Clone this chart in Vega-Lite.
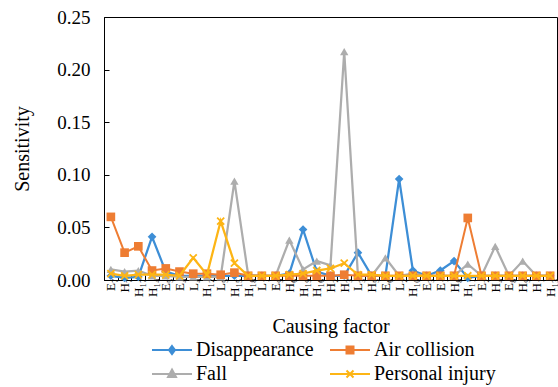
{
  "$schema": "https://vega.github.io/schema/vega-lite/v6.json",
  "width": 453,
  "height": 263,
  "autosize": {"type": "none"},
  "padding": {"left": 104, "top": 17, "right": 1, "bottom": 107},
  "background": "white",
  "config": {
    "font": "Liberation Serif",
    "view": {"stroke": "black", "strokeWidth": 1},
    "style": {"guide-label": {"font": "Liberation Serif", "fill": "black"}, "guide-title": {"font": "Liberation Serif", "fill": "black"}},
    "axis": {"domainColor": "black", "tickColor": "black", "labelColor": "black", "titleColor": "black", "titleFontWeight": "normal", "grid": false, "labelFont": "Liberation Serif", "titleFont": "Liberation Serif"},
    "legend": {"labelFont": "Liberation Serif", "labelFontSize": 20, "labelColor": "black"}
  },
  "data": {"values": [
    {"factor": "E₇", "Disappearance": 0.004, "Air collision": 0.060, "Fall": 0.010, "Personal injury": 0.006},
    {"factor": "H₇", "Disappearance": 0.002, "Air collision": 0.026, "Fall": 0.008, "Personal injury": 0.004},
    {"factor": "H₁₇", "Disappearance": 0.003, "Air collision": 0.032, "Fall": 0.009, "Personal injury": 0.005},
    {"factor": "H₁₄", "Disappearance": 0.041, "Air collision": 0.009, "Fall": 0.004, "Personal injury": 0.005},
    {"factor": "E₅", "Disappearance": 0.008, "Air collision": 0.011, "Fall": 0.004, "Personal injury": 0.005},
    {"factor": "E₄", "Disappearance": 0.004, "Air collision": 0.008, "Fall": 0.003, "Personal injury": 0.004},
    {"factor": "L₄", "Disappearance": 0.004, "Air collision": 0.006, "Fall": 0.003, "Personal injury": 0.021},
    {"factor": "H₁₂", "Disappearance": 0.004, "Air collision": 0.006, "Fall": 0.003, "Personal injury": 0.005},
    {"factor": "L₅", "Disappearance": 0.004, "Air collision": 0.005, "Fall": 0.003, "Personal injury": 0.056},
    {"factor": "H₁₅", "Disappearance": 0.004, "Air collision": 0.007, "Fall": 0.094, "Personal injury": 0.016},
    {"factor": "H₁₈", "Disappearance": 0.004, "Air collision": 0.004, "Fall": 0.005, "Personal injury": 0.004},
    {"factor": "L₁", "Disappearance": 0.004, "Air collision": 0.004, "Fall": 0.004, "Personal injury": 0.004},
    {"factor": "E₉", "Disappearance": 0.004, "Air collision": 0.004, "Fall": 0.004, "Personal injury": 0.004},
    {"factor": "H₆", "Disappearance": 0.006, "Air collision": 0.004, "Fall": 0.038, "Personal injury": 0.005},
    {"factor": "H₁₉", "Disappearance": 0.048, "Air collision": 0.004, "Fall": 0.010, "Personal injury": 0.006},
    {"factor": "H₁₆", "Disappearance": 0.008, "Air collision": 0.004, "Fall": 0.018, "Personal injury": 0.009},
    {"factor": "H₂", "Disappearance": 0.004, "Air collision": 0.004, "Fall": 0.014, "Personal injury": 0.011},
    {"factor": "H₃", "Disappearance": 0.004, "Air collision": 0.005, "Fall": 0.217, "Personal injury": 0.016},
    {"factor": "L₃", "Disappearance": 0.026, "Air collision": 0.004, "Fall": 0.004, "Personal injury": 0.005},
    {"factor": "H₅", "Disappearance": 0.004, "Air collision": 0.004, "Fall": 0.004, "Personal injury": 0.005},
    {"factor": "E₆", "Disappearance": 0.004, "Air collision": 0.004, "Fall": 0.021, "Personal injury": 0.004},
    {"factor": "L₂", "Disappearance": 0.096, "Air collision": 0.004, "Fall": 0.004, "Personal injury": 0.004},
    {"factor": "H₁₀", "Disappearance": 0.009, "Air collision": 0.004, "Fall": 0.006, "Personal injury": 0.004},
    {"factor": "E₃", "Disappearance": 0.004, "Air collision": 0.004, "Fall": 0.004, "Personal injury": 0.004},
    {"factor": "E₁", "Disappearance": 0.009, "Air collision": 0.004, "Fall": 0.004, "Personal injury": 0.004},
    {"factor": "H₈", "Disappearance": 0.018, "Air collision": 0.004, "Fall": 0.004, "Personal injury": 0.004},
    {"factor": "H₁₁", "Disappearance": 0.002, "Air collision": 0.059, "Fall": 0.015, "Personal injury": 0.004},
    {"factor": "E₂", "Disappearance": 0.004, "Air collision": 0.004, "Fall": 0.004, "Personal injury": 0.004},
    {"factor": "H₄", "Disappearance": 0.004, "Air collision": 0.004, "Fall": 0.032, "Personal injury": 0.004},
    {"factor": "E₈", "Disappearance": 0.004, "Air collision": 0.004, "Fall": 0.004, "Personal injury": 0.004},
    {"factor": "H₉", "Disappearance": 0.004, "Air collision": 0.004, "Fall": 0.018, "Personal injury": 0.004},
    {"factor": "H₁", "Disappearance": 0.004, "Air collision": 0.004, "Fall": 0.004, "Personal injury": 0.004},
    {"factor": "H₁₃", "Disappearance": 0.004, "Air collision": 0.004, "Fall": 0.004, "Personal injury": 0.004}
  ]},
  "transform": [
    {"fold": ["Disappearance", "Air collision", "Fall", "Personal injury"], "as": ["series", "value"]}
  ],
  "encoding": {
    "x": {
      "field": "factor", "type": "nominal", "sort": null,
      "scale": {"type": "band", "paddingInner": 0, "paddingOuter": 0},
      "axis": {"title": "Causing factor", "labelAngle": -90, "labelFontSize": 13, "labelFont": "Liberation Serif", "tickBand": "extent", "tickSize": -5, "labelPadding": 3, "titleFontSize": 20, "titlePadding": 20}
    },
    "y": {
      "field": "value", "type": "quantitative",
      "scale": {"domain": [0, 0.25], "nice": false},
      "axis": {"title": "Sensitivity", "values": [0, 0.05, 0.1, 0.15, 0.2, 0.25], "format": ".2f", "labelFontSize": 19, "labelFont": "Liberation Serif", "tickSize": -5, "labelPadding": 19, "titleFontSize": 20, "titlePadding": 24}
    }
  },
  "layer": [
    {
      "transform": [{"filter": {"field": "series", "equal": "Disappearance"}}],
      "mark": {"type": "line", "strokeWidth": 2.25, "color": "#3d8ed6", "point": {"shape": "diamond", "filled": true, "size": 75, "color": "#3d8ed6", "opacity": 1}},
      "encoding": {}
    },
    {
      "transform": [{"filter": {"field": "series", "equal": "Fall"}}],
      "mark": {"type": "line", "strokeWidth": 2.25, "color": "#adadad", "point": {"shape": "triangle-up", "filled": true, "size": 70, "color": "#adadad", "opacity": 1}},
      "encoding": {}
    },
    {
      "transform": [{"filter": {"field": "series", "equal": "Air collision"}}],
      "mark": {"type": "line", "strokeWidth": 2, "color": "#ee7d33", "point": {"shape": "square", "filled": true, "size": 75, "color": "#ee7d33", "opacity": 1}},
      "encoding": {}
    },
    {
      "transform": [{"filter": {"field": "series", "equal": "Personal injury"}}],
      "mark": {"type": "line", "strokeWidth": 2.25, "color": "#fdb515", "point": {"shape": "M-1,-1L1,1M-1,1L1,-1", "filled": false, "size": 50, "strokeWidth": 1.8, "color": "#fdb515", "opacity": 1}},
      "encoding": {}
    },
    {
      "mark": {"type": "point", "filled": true, "opacity": 0},
      "encoding": {
        "fill": {"field": "series", "type": "nominal",
          "scale": {"domain": ["Disappearance", "Air collision", "Fall", "Personal injury"], "range": ["#3d8ed6", "#ee7d33", "#adadad", "#fdb515"]}},
        "stroke": {"field": "series", "type": "nominal",
          "scale": {"domain": ["Disappearance", "Air collision", "Fall", "Personal injury"], "range": ["#3d8ed6", "#ee7d33", "#adadad", "#fdb515"]}},
        "shape": {"field": "series", "type": "nominal",
          "scale": {"domain": ["Disappearance", "Air collision", "Fall", "Personal injury"], "range": [
            "M-1,0H3M1,-0.4L1.3,0L1,0.4L0.7,0Z",
            "M-1,0H3M0.65,-0.35H1.35V0.35H0.65Z",
            "M-1,0H3M1,-0.45L1.4,0.3L0.6,0.3Z",
            "M-1,0H3M0.65,-0.35L1.35,0.35M0.65,0.35L1.35,-0.35"
          ]},
          "legend": {
            "orient": "none", "legendX": 47, "legendY": 322, "columns": 2, "direction": "horizontal", "title": null,
            "labelFontSize": 20, "labelFont": "Liberation Serif", "labelColor": "black", "labelLimit": 300,
            "symbolSize": 400, "symbolStrokeWidth": 2, "symbolOpacity": 1, "labelOffset": 23, "columnPadding": 12, "rowPadding": 3
          }
        }
      }
    }
  ]
}
